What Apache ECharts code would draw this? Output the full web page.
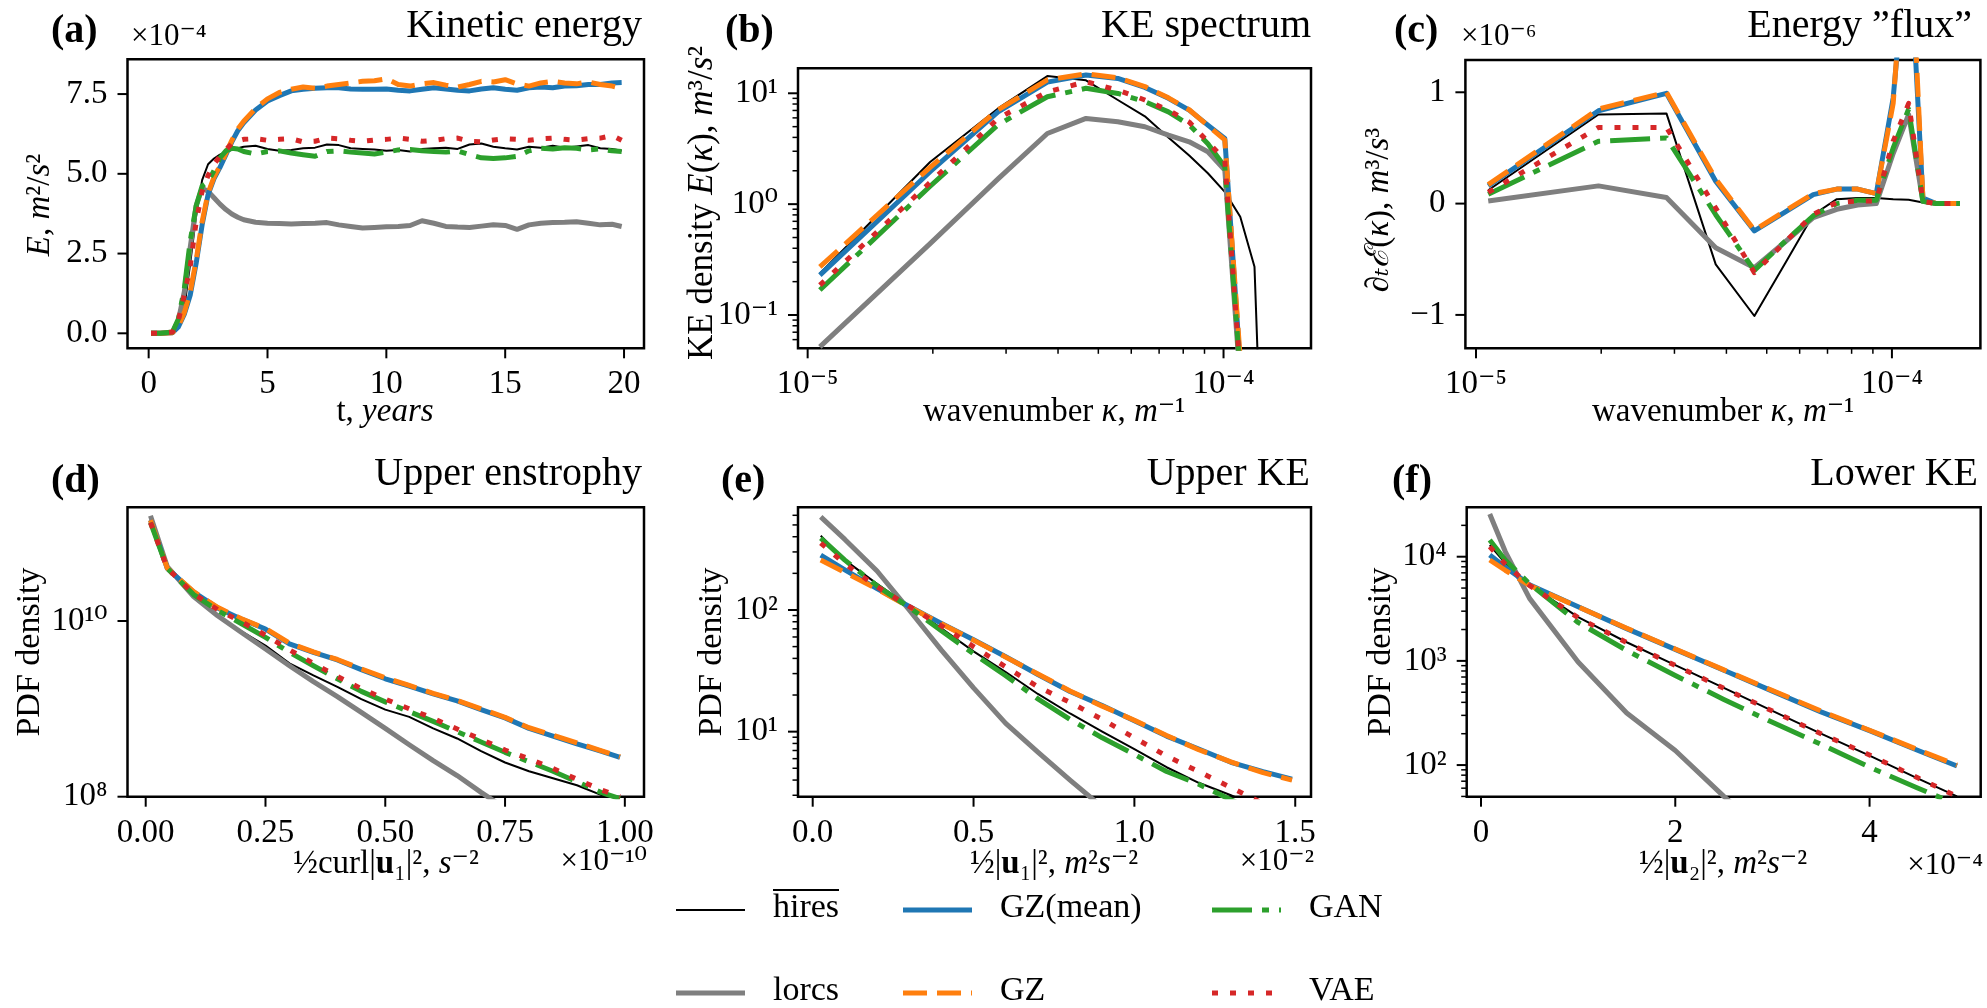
<!DOCTYPE html>
<html>
<head>
<meta charset="utf-8">
<script src="https://cdn.jsdelivr.net/npm/echarts@6.0.0/dist/echarts.min.js"></script>
<style>
  html, body { margin: 0; padding: 0; background: #ffffff; }
  #main { width: 1987px; height: 1008px; }
</style>
</head>
<body>
<div id="main"></div>
<script>
// ---------------- (a) Kinetic energy, units of 1e-4 m^2/s^2 ----------------
const keYears = [0.1, 0.5, 1.0, 1.25, 1.5, 1.75, 2.0, 2.25, 2.5, 2.75, 3.0, 3.25, 3.5, 3.75, 4.0,
  4.5, 5.0, 5.5, 6.0, 6.5, 7.0, 7.5, 8.0, 8.5, 9.0, 9.5, 10.0, 10.5, 11.0, 11.5, 12.0, 12.5, 13.0,
  13.5, 14.0, 14.5, 15.0, 15.5, 16.0, 16.5, 17.0, 17.5, 18.0, 18.5, 19.0, 19.5, 19.9];
const keHires = [0, 0, 0.03, 0.3, 0.8, 2.2, 3.7, 4.8, 5.3, 5.48, 5.6, 5.68, 5.75, 5.8, 5.85,
  5.88, 5.78, 5.72, 5.75, 5.8, 5.82, 5.92, 5.9, 5.8, 5.78, 5.76, 5.72, 5.75, 5.7, 5.78, 5.8, 5.82, 5.78,
  5.92, 5.95, 5.85, 5.8, 5.76, 5.85, 5.82, 5.88, 5.82, 5.86, 5.9, 5.8, 5.78, 5.72];
const keLores = [0, 0, 0.03, 0.4, 1.3, 2.7, 4.0, 4.55, 4.45, 4.25, 4.05, 3.88, 3.74, 3.64, 3.56,
  3.48, 3.45, 3.44, 3.43, 3.44, 3.45, 3.47, 3.4, 3.35, 3.3, 3.32, 3.34, 3.35, 3.38, 3.53, 3.45, 3.35, 3.33,
  3.32, 3.36, 3.4, 3.38, 3.26, 3.4, 3.45, 3.47, 3.48, 3.5, 3.45, 3.4, 3.42, 3.35];
const keGZmean = [0, 0, 0.02, 0.2, 0.6, 1.2, 2.2, 3.4, 4.35, 4.85, 5.2, 5.6, 6.0, 6.35, 6.6,
  7.0, 7.28, 7.45, 7.6, 7.65, 7.68, 7.7, 7.7, 7.66, 7.65, 7.65, 7.66, 7.62, 7.6, 7.65, 7.7, 7.66, 7.62,
  7.6, 7.66, 7.7, 7.65, 7.62, 7.7, 7.72, 7.7, 7.75, 7.76, 7.8, 7.8, 7.85, 7.86];
const keGZ = [0, 0, 0.02, 0.22, 0.65, 1.3, 2.3, 3.5, 4.4, 4.9, 5.25, 5.65, 6.05, 6.4, 6.65,
  7.05, 7.35, 7.55, 7.65, 7.72, 7.68, 7.75, 7.8, 7.85, 7.9, 7.92, 7.98, 7.8, 7.75, 7.82, 7.86, 7.78, 7.72,
  7.8, 7.9, 7.88, 7.95, 7.82, 7.75, 7.85, 7.9, 7.85, 7.82, 7.88, 7.8, 7.75, 7.68];
const keGAN = [0, 0, 0.04, 0.45, 1.4, 2.9, 4.0, 4.62, 4.75, 5.1, 5.5, 5.72, 5.8, 5.78, 5.7,
  5.62, 5.7, 5.72, 5.65, 5.6, 5.55, 5.7, 5.72, 5.68, 5.65, 5.62, 5.68, 5.75, 5.76, 5.72, 5.7, 5.68, 5.72,
  5.6, 5.5, 5.48, 5.5, 5.55, 5.72, 5.8, 5.78, 5.82, 5.8, 5.75, 5.78, 5.72, 5.7];
const keVAE = [0, 0, 0.04, 0.4, 1.2, 2.1, 3.5, 4.45, 4.95, 5.3, 5.55, 5.75, 5.95, 6.03, 6.08,
  6.1, 6.05, 6.08, 6.1, 6.0, 6.02, 6.12, 6.1, 6.05, 6.02, 6.06, 6.08, 6.12, 6.08, 6.02, 6.05, 6.1, 6.12,
  6.02, 6.0, 6.06, 6.1, 6.08, 6.05, 6.1, 6.12, 6.08, 6.06, 6.1, 6.12, 6.2, 6.05];

// ---------------- (b) KE spectrum, m^3/s^2 vs wavenumber (1/m) ----------------
const wavenumbers = [1.07e-5, 1.97e-5, 2.87e-5, 3.77e-5, 4.67e-5, 5.57e-5, 6.47e-5, 7.37e-5,
  8.27e-5, 9.17e-5, 1.007e-4, 1.097e-4, 1.187e-4, 1.277e-4, 1.367e-4, 1.457e-4];
const specHires  = [0.237, 2.4, 7.3, 14.3, 13.1, 8.7, 6.2, 4.0, 2.75, 1.9, 1.29, 0.77, 0.272, 1.2e-4, 1e-6, 1e-8];
const specLores  = [0.0516, 0.44, 1.69, 4.34, 5.93, 5.53, 4.99, 4.2, 3.65, 2.97, 2.03, 0.025, 1e-3, 1e-4, 1e-5, 1e-6];
const specGZmean = [0.229, 1.96, 6.8, 12.6, 14.6, 13.6, 11.3, 9.0, 7.05, 5.16, 3.91, 0.035, 1e-3, 1e-4, 1e-5, 1e-6];
const specGZ     = [0.272, 2.15, 7.1, 13.2, 15.0, 13.8, 11.5, 9.1, 7.1, 5.1, 3.8, 0.04, 1e-3, 1e-4, 1e-5, 1e-6];
const specGAN    = [0.168, 1.45, 5.2, 9.3, 11.1, 9.96, 8.4, 6.8, 5.2, 3.5, 2.17, 0.03, 1e-3, 1e-4, 1e-5, 1e-6];
const specVAE    = [0.186, 1.57, 5.93, 10.3, 12.7, 10.7, 8.7, 7.05, 5.5, 3.65, 2.5, 0.03, 1e-3, 1e-4, 1e-5, 1e-6];

// ---------------- (c) Energy "flux", units of 1e-6 m^3/s^3 ----------------
const fluxHires  = [0.12, 0.80, 0.81, -0.546, -1.01, -0.52, -0.1, 0.04, 0.05, 0.05, 0.04, 0.035, 0.01, 0, 0, 0];
const fluxLores  = [0.024, 0.159, 0.054, -0.396, -0.576, -0.336, -0.126, -0.051, -0.012, 0.0, 0.45, 0.8, 0.02, 0, 0, 0];
const fluxGZmean = [0.159, 0.834, 0.99, 0.2, -0.246, -0.07, 0.08, 0.13, 0.13, 0.09, 0.95, 2.5, 0.05, 0, 0, 0];
const fluxGZ     = [0.17, 0.85, 1.0, 0.22, -0.24, -0.06, 0.09, 0.13, 0.13, 0.09, 0.9, 2.8, 0.05, 0, 0, 0];
const fluxGAN    = [0.084, 0.56, 0.59, -0.1, -0.6, -0.33, -0.11, 0.0, 0.03, 0.03, 0.5, 0.85, 0.02, 0, 0, 0];
const fluxVAE    = [0.1, 0.684, 0.684, -0.04, -0.62, -0.336, -0.096, 0.01, 0.024, 0.024, 0.56, 0.9, 0.02, 0, 0, 0];

// ---------------- (d) Upper enstrophy PDF, x in units of 1e-10 s^-2 ----------------
const enstX = [0.01, 0.045, 0.1, 0.15, 0.2, 0.25, 0.3, 0.35, 0.4, 0.45, 0.5, 0.55, 0.6, 0.65, 0.7,
  0.75, 0.8, 0.85, 0.9, 0.95, 0.99];
const enstHires  = [1.41e11, 3.98e10, 1.9e10, 1.15e10, 7.6e9, 5.25e9, 3.3e9, 2.4e9, 1.78e9, 1.29e9, 9.8e8,
  8.1e8, 6.0e8, 4.6e8, 3.3e8, 2.45e8, 1.95e8, 1.62e8, 1.35e8, 1.05e8, 8.9e7];
const enstLores  = [1.58e11, 4.17e10, 1.9e10, 1.15e10, 7.4e9, 4.8e9, 3.1e9, 2.04e9, 1.38e9, 9.1e8, 6.0e8,
  3.9e8, 2.57e8, 1.74e8, 1.12e8, 7.4e7];
const enstGZmean = [1.41e11, 3.98e10, 2.14e10, 1.41e10, 1.05e10, 8.1e9, 5.5e9, 4.4e9, 3.6e9, 2.8e9, 2.2e9,
  1.82e9, 1.48e9, 1.23e9, 9.8e8, 7.9e8, 6.0e8, 4.9e8, 4.0e8, 3.3e8, 2.8e8];
const enstGZ     = [1.41e11, 4.0e10, 2.16e10, 1.43e10, 1.06e10, 8.2e9, 5.6e9, 4.45e9, 3.65e9, 2.85e9, 2.25e9,
  1.85e9, 1.5e9, 1.25e9, 1.0e9, 8.0e8, 6.1e8, 5.0e8, 4.1e8, 3.35e8, 2.85e8];
const enstGAN    = [1.32e11, 3.98e10, 2.0e10, 1.32e10, 9.3e9, 6.5e9, 4.4e9, 3.1e9, 2.2e9, 1.58e9, 1.2e9,
  9.3e8, 7.2e8, 5.5e8, 4.2e8, 3.2e8, 2.5e8, 1.95e8, 1.48e8, 1.12e8, 9.5e7];
const enstVAE    = [1.32e11, 3.98e10, 2.04e10, 1.35e10, 9.8e9, 6.9e9, 4.7e9, 3.3e9, 2.34e9, 1.7e9, 1.29e9,
  1.0e9, 7.8e8, 5.9e8, 4.5e8, 3.4e8, 2.7e8, 2.1e8, 1.58e8, 1.2e8, 1.0e8];

// ---------------- (e) Upper KE PDF, x in units of 1e-2 m^2 s^-2 ----------------
const upKeX = [0.025, 0.1, 0.2, 0.3, 0.4, 0.5, 0.6, 0.7, 0.8, 0.9, 1.0, 1.1, 1.2, 1.3, 1.4, 1.49];
const upKeHires  = [407, 257, 164, 107, 70.8, 45.7, 30.9, 20.4, 14.1, 10.0, 7.2, 5.1, 3.8, 3.0, 2.3];
const upKeLores  = [582, 380, 209, 100, 46.8, 22.9, 11.7, 6.8, 4.0, 2.4];
const upKeGZmean = [282, 214, 150, 107, 77.6, 56.9, 41.2, 29.5, 21.4, 16.4, 12.3, 9.2, 7.2, 5.6, 4.7, 4.07];
const upKeGZ     = [257, 204, 149, 106, 77, 56.5, 41, 29.8, 21.6, 16.2, 12.4, 9.3, 7.1, 5.65, 4.6, 4.0];
const upKeGAN    = [389, 257, 158, 105, 67.6, 43.6, 28.8, 18.6, 12.6, 8.9, 6.5, 4.7, 3.7, 2.75, 2.1];
const upKeVAE    = [355, 240, 155, 107, 74, 50, 34, 23.4, 17.4, 12.6, 8.9, 6.3, 4.7, 3.47, 2.57];

// ---------------- (f) Lower KE PDF, x in units of 1e-4 m^2 s^-2 ----------------
const loKeX = [0.09, 0.25, 0.5, 1.0, 1.5, 2.0, 2.5, 3.0, 3.5, 4.0, 4.5, 4.9];
const loKeHires  = [12900, 8700, 5400, 2630, 1510, 912, 550, 331, 200, 123, 74, 50];
const loKeLores  = [25700, 11200, 3980, 977, 316, 138, 50, 20];
const loKeGZmean = [10400, 7940, 5370, 3310, 2040, 1290, 813, 513, 324, 214, 138, 98];
const loKeGZ     = [9290, 7410, 5300, 3300, 2060, 1300, 820, 520, 330, 216, 140, 100];
const loKeGAN    = [14450, 9300, 5500, 2340, 1260, 724, 427, 257, 158, 95.5, 60, 41.7];
const loKeVAE    = [12500, 8500, 5300, 2600, 1500, 905, 545, 330, 200, 125, 75, 50];

// ---------------- tick values ----------------
const kMajor = [1e-5, 1e-4];
const kMinor = [2e-5, 3e-5, 4e-5, 5e-5, 6e-5, 7e-5, 8e-5, 9e-5];
const specMajor = [0.1, 1, 10];
const specMinor = [0.06, 0.07, 0.08, 0.09, 0.2, 0.3, 0.4, 0.5, 0.6, 0.7, 0.8, 0.9, 2, 3, 4, 5, 6, 7, 8, 9];
const upKeMinor = [3, 4, 5, 6, 7, 8, 9, 20, 30, 40, 50, 60, 70, 80, 90, 200, 300, 400, 500, 600];
const loKeMinor = [50, 60, 70, 80, 90, 200, 300, 400, 500, 600, 700, 800, 900,
  2000, 3000, 4000, 5000, 6000, 7000, 8000, 9000, 20000];

const seriesNames = ['hires', 'lorcs', 'GZ(mean)', 'GZ', 'GAN', 'VAE'];

// ---------------- styling ----------------
const FONT = '"Liberation Serif", "DejaVu Serif", serif';
const TICK_SIZE = 33;
const STYLE = {
  'hires':    { color: '#000000', width: 2, type: 'solid' },
  'lorcs':    { color: '#7f7f7f', width: 5, type: 'solid' },
  'GZ(mean)': { color: '#1f77b4', width: 5, type: 'solid' },
  'GZ':       { color: '#ff7f0e', width: 5, type: [24, 10] },
  'GAN':      { color: '#2ca02c', width: 5, type: [40, 10, 7, 10] },
  'VAE':      { color: '#d62728', width: 5, type: [6, 12] }
};
const GRIDS = [
  { left: 127.5, top: 59.3, width: 516.5, height: 289 },
  { left: 798, top: 68.3, width: 513, height: 280 },
  { left: 1465.4, top: 60, width: 515, height: 288.3 },
  { left: 127.5, top: 507.3, width: 516.5, height: 289.4 },
  { left: 798, top: 507.3, width: 513, height: 289.4 },
  { left: 1466.7, top: 507.3, width: 514, height: 289.4 }
];

const SUP = { '0': '⁰', '1': '¹', '2': '²', '3': '³', '4': '⁴', '5': '⁵', '6': '⁶', '7': '⁷', '8': '⁸', '9': '⁹', '-': '⁻' };
const sup = n => String(n).split('').map(c => SUP[c]).join('');
const near = (v, list) => list.some(m => Math.abs(v - m) <= Math.abs(m) * 1e-6 + 1e-12);
const logFmt = majors => v => near(v, majors) ? '10' + sup(Math.round(Math.log10(v))) : '';
const fixedFmt = (majors, d) => v => near(v, majors) ? v.toFixed(d) : '';
const signedFmt = majors => v => near(v, majors) ? (v < 0 ? '\u2212' + Math.abs(v) : String(v)) : '';

const xAxes = [], yAxes = [], series = [], panels = [];

function axis(g, type, min, max, pos, majors, fmt) {
  const a = {
    type, gridIndex: g, min, max, position: pos,
    axisLine: { show: false, onZero: false },
    splitLine: { show: false },
    minorTick: { show: false },
    minorSplitLine: { show: false },
    axisTick: { show: false },
    axisLabel: { show: true, customValues: majors, formatter: fmt, margin: 20, color: '#000',
      fontFamily: FONT, fontSize: TICK_SIZE },
    z: 5
  };
  if (type === 'log') a.logBase = 10;
  return a;
}
function addLine(xi, yi, xs, ys, name, order) {
  const s = STYLE[name];
  const n = Math.min(xs.length, ys.length);
  const data = [];
  for (let i = 0; i < n; i++) data.push([xs[i], ys[i]]);
  series.push({
    type: 'line', name, xAxisIndex: xi, yAxisIndex: yi, data,
    showSymbol: false, symbol: 'none', smooth: false, clip: true, silent: true,
    lineStyle: { color: s.color, width: s.width, type: s.type, cap: 'butt', join: 'round' },
    z: 2 + order
  });
}
function addPanel(g, xCfg, yCfg, xs, ysList) {
  xAxes.push(axis(g, xCfg.type, xCfg.min, xCfg.max, 'bottom', xCfg.majors, xCfg.fmt));
  const xi = xAxes.length - 1;
  yAxes.push(axis(g, yCfg.type, yCfg.min, yCfg.max, 'left', yCfg.majors, yCfg.fmt));
  const yi = yAxes.length - 1;
  ysList.forEach((ys, k) => addLine(xi, yi, xs, ys, seriesNames[k], k));
  panels.push({ g, xi, yi, xCfg, yCfg });
}

// (a)
addPanel(0,
  { type: 'value', min: -0.89, max: 20.84, majors: [0, 5, 10, 15, 20], fmt: fixedFmt([0, 5, 10, 15, 20], 0) },
  { type: 'value', min: -0.47, max: 8.59, majors: [0, 2.5, 5, 7.5], fmt: fixedFmt([0, 2.5, 5, 7.5], 1) },
  keYears, [keHires, keLores, keGZmean, keGZ, keGAN, keVAE]);
// (b)
addPanel(1,
  { type: 'log', min: 9.48e-6, max: 1.623e-4, majors: kMajor, minors: kMinor, fmt: logFmt(kMajor) },
  { type: 'log', min: 0.0501, max: 16.8, majors: specMajor, minors: specMinor, fmt: logFmt(specMajor) },
  wavenumbers, [specHires, specLores, specGZmean, specGZ, specGAN, specVAE]);
// (c)
addPanel(2,
  { type: 'log', min: 9.43e-6, max: 1.632e-4, majors: kMajor, minors: kMinor, fmt: logFmt(kMajor) },
  { type: 'value', min: -1.3, max: 1.29, majors: [-1, 0, 1], fmt: signedFmt([-1, 0, 1]) },
  wavenumbers, [fluxHires, fluxLores, fluxGZmean, fluxGZ, fluxGAN, fluxVAE]);
// (d)
addPanel(3,
  { type: 'value', min: -0.038, max: 1.04, majors: [0, 0.25, 0.5, 0.75, 1], fmt: fixedFmt([0, 0.25, 0.5, 0.75, 1], 2) },
  { type: 'log', min: 1e8, max: 1.97e11, majors: [1e8, 1e10], fmt: logFmt([1e8, 1e10]) },
  enstX, [enstHires, enstLores, enstGZmean, enstGZ, enstGAN, enstVAE]);
// (e)
addPanel(4,
  { type: 'value', min: -0.0457, max: 1.549, majors: [0, 0.5, 1, 1.5], fmt: fixedFmt([0, 0.5, 1, 1.5], 1) },
  { type: 'log', min: 2.92, max: 698, majors: [10, 100], minors: upKeMinor, fmt: logFmt([10, 100]) },
  upKeX, [upKeHires, upKeLores, upKeGZmean, upKeGZ, upKeGAN, upKeVAE]);
// (f)
addPanel(5,
  { type: 'value', min: -0.147, max: 5.144, majors: [0, 2, 4], fmt: fixedFmt([0, 2, 4], 0) },
  { type: 'log', min: 49.7, max: 29800, majors: [100, 1000, 10000], minors: loKeMinor, fmt: logFmt([100, 1000, 10000]) },
  loKeX, [loKeHires, loKeLores, loKeGZmean, loKeGZ, loKeGAN, loKeVAE]);

// ---------------- text and legend ----------------
const rich = size => ({
  i: { fontFamily: FONT, fontSize: size, fontStyle: 'italic', fill: '#000' },
  b: { fontFamily: FONT, fontSize: size, fontWeight: 'bold', fill: '#000' }
});
const graphics = [];
function text(x, y, str, o = {}) {
  const size = o.size || 33;
  graphics.push({
    type: 'text', x, y, rotation: o.rot || 0, silent: true, z: 20,
    style: {
      text: str, fill: '#000', fontFamily: FONT, fontSize: size,
      fontWeight: o.bold ? 'bold' : 'normal',
      textAlign: o.align || 'center', textVerticalAlign: 'middle', rich: rich(size)
    }
  });
}
const ROT = Math.PI / 2;

// panel letters and titles
[['(a)', 51, 32], ['(b)', 725, 32], ['(c)', 1394, 32], ['(d)', 51, 482], ['(e)', 721, 482], ['(f)', 1392, 482]]
  .forEach(([s, x, y]) => text(x, y, s, { size: 40, bold: true, align: 'left' }));
[['Kinetic energy', 642, 26], ['KE spectrum', 1311, 26], ['Energy \u201dflux\u201d', 1972, 26],
 ['Upper enstrophy', 642, 474], ['Upper KE', 1310, 474], ['Lower KE', 1978, 474]]
  .forEach(([s, x, y]) => text(x, y, s, { size: 40, align: 'right' }));

// axis offsets
text(131, 37, '×10⁻⁴', { size: 31, align: 'left' });
text(1461, 37, '×10⁻⁶', { size: 31, align: 'left' });
text(647, 862, '×10⁻¹⁰', { size: 31, align: 'right' });
text(1314, 862, '×10⁻²', { size: 31, align: 'right' });
text(1983, 866, '×10⁻⁴', { size: 31, align: 'right' });

// x-axis names
text(385, 412, 't, {i|years}');
text(1054, 412, 'wavenumber {i|κ}, {i|m}⁻¹');
text(1723, 412, 'wavenumber {i|κ}, {i|m}⁻¹');
text(386, 864, '½curl|{b|u}₁|², {i|s}⁻²');
text(1054, 864, '½|{b|u}₁|², {i|m}²{i|s}⁻²');
text(1723, 864, '½|{b|u}₂|², {i|m}²{i|s}⁻²');

// y-axis names
text(40, 205, '{i|E}, {i|m}²/{i|s}²', { rot: ROT });
text(703, 203, 'KE density {i|E}({i|κ}), {i|m}³/{i|s}²', { rot: ROT, size: 35 });
text(1379, 210, '∂{i|ₜ}{i|ℰ}({i|κ}), {i|m}³/{i|s}³', { rot: ROT });
text(30, 652, 'PDF density', { rot: ROT, size: 34 });
text(712, 652, 'PDF density', { rot: ROT, size: 34 });
text(1381, 652, 'PDF density', { rot: ROT, size: 34 });

// legend
const LEG_X = [676, 903, 1212];
const LEG_Y = [910, 993];
const LEG_LEN = 69;
const legendSlots = [[0, 0], [0, 1], [1, 0], [1, 1], [2, 0], [2, 1]];
seriesNames.forEach((name, k) => {
  const [c, r] = legendSlots[k];
  const s = STYLE[name];
  graphics.push({
    type: 'line', silent: true, z: 20,
    shape: { x1: LEG_X[c], y1: LEG_Y[r], x2: LEG_X[c] + LEG_LEN, y2: LEG_Y[r] },
    style: { stroke: s.color, lineWidth: s.width, lineDash: Array.isArray(s.type) ? s.type : null, lineCap: 'butt' }
  });
  text(LEG_X[c] + LEG_LEN + 28, LEG_Y[r] - 2, name, { size: 34, align: 'left' });
});
// bar over "hires"
graphics.push({
  type: 'line', silent: true, z: 20,
  shape: { x1: LEG_X[0] + LEG_LEN + 28, y1: LEG_Y[0] - 20, x2: LEG_X[0] + LEG_LEN + 28 + 66, y2: LEG_Y[0] - 20 },
  style: { stroke: '#000', lineWidth: 2 }
});

const chart = echarts.init(document.getElementById('main'), null, { renderer: 'canvas' });
chart.setOption({
  animation: false,
  backgroundColor: '#ffffff',
  grid: GRIDS.map(g => Object.assign({}, g, {
    show: true, borderColor: '#000', borderWidth: 2.5, backgroundColor: 'rgba(0,0,0,0)',
    containLabel: false, outerBoundsMode: 'none'
  })),
  xAxis: xAxes,
  yAxis: yAxes,
  series
});

// outward tick marks, positioned through each grid's own axis scales
function tick(p, xv, yv, dim, len, width) {
  const pt = chart.convertToPixel({ xAxisIndex: p.xi, yAxisIndex: p.yi }, [xv, yv]);
  if (!pt || !isFinite(pt[0]) || !isFinite(pt[1])) return;
  const shape = dim === 'x'
    ? { x1: pt[0], y1: pt[1], x2: pt[0], y2: pt[1] + len }
    : { x1: pt[0] - len, y1: pt[1], x2: pt[0], y2: pt[1] };
  graphics.push({ type: 'line', silent: true, z: 15, shape, style: { stroke: '#000', lineWidth: width } });
}
panels.forEach(p => {
  const { xCfg, yCfg } = p;
  xCfg.majors.forEach(v => tick(p, v, yCfg.min, 'x', 10, 2));
  yCfg.majors.forEach(v => tick(p, xCfg.min, v, 'y', 10, 2));
  (xCfg.minors || []).forEach(v => tick(p, v, yCfg.min, 'x', 5.5, 1.5));
  (yCfg.minors || []).forEach(v => tick(p, xCfg.min, v, 'y', 5.5, 1.5));
});

chart.setOption({ graphic: { elements: graphics } });
</script>
</body>
</html>
